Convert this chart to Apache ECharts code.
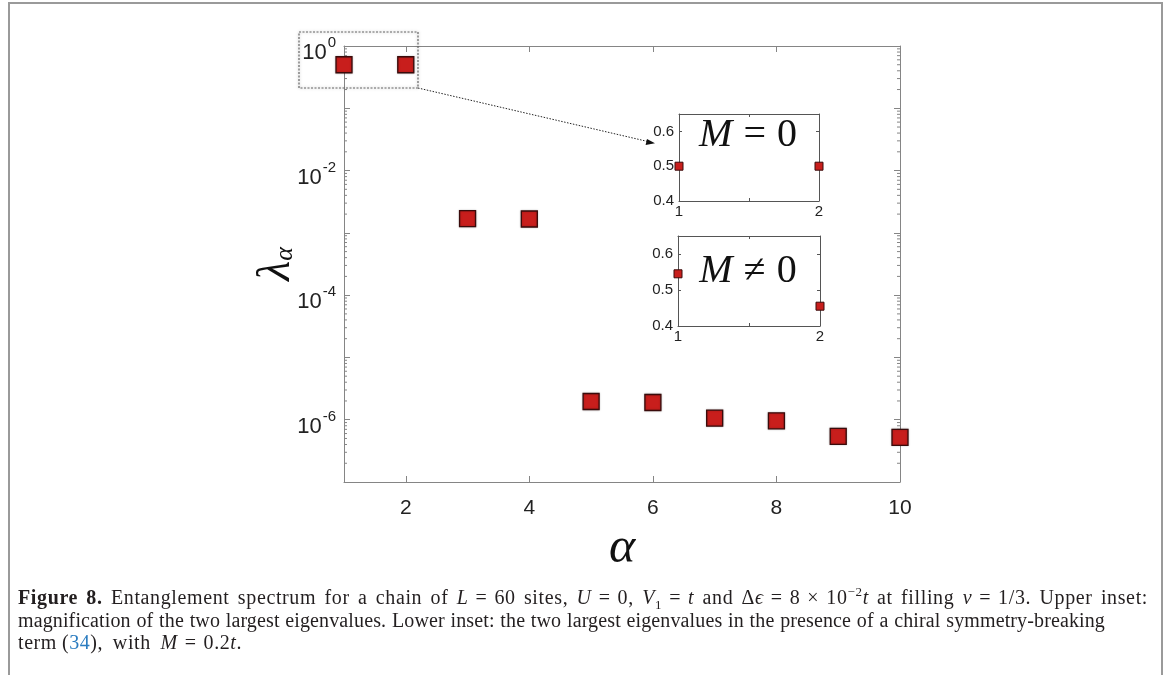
<!DOCTYPE html>
<html>
<head>
<meta charset="utf-8">
<script src="https://cdn.jsdelivr.net/npm/echarts@6/dist/echarts.min.js"></script>
<style>
  html, body { margin: 0; padding: 0; background: #fff; }
  #wrap { position: relative; width: 1171px; height: 675px; overflow: hidden; }
  #chart { position: absolute; left: 0; top: 0; width: 1171px; height: 675px; }
  #frame { position: absolute; left: 8px; top: 2px; width: 1155px; height: 700px; border: 2px solid #9a9a9a; box-sizing: border-box; pointer-events: none; }
  #caption { position: absolute; left: 18px; top: 586px; font-family: "Liberation Serif", serif; font-size: 20px; line-height: 22.5px; color: #231f20; white-space: nowrap; }
  #caption > div { display: inline-block; }
  #caption i { font-style: italic; }
  #caption .eq { margin: 0 7px; }
  #caption .ref { color: #2b7cc0; }
  #caption .gap { margin-left: 5px; }
  #caption sub, #caption sup { font-size: 13px; line-height: 0; }
</style>
</head>
<body>
<div id="wrap">
  <div id="chart"></div>
  <div id="frame"></div>
  <div id="caption">
    <div id="l1" data-w="1130"><b>Figure 8.</b> Entanglement spectrum for a chain of <i>L</i><span class="eq">=</span>60 sites, <i>U</i><span class="eq">=</span>0, <i>V</i><sub>1</sub><span class="eq">=</span><i>t</i> and Δ<i>ϵ</i><span class="eq">=</span>8<span class="eq">×</span>10<sup>−2</sup><i>t</i> at filling <i>ν</i><span class="eq">=</span>1/3. Upper inset:</div><br>
    <div id="l2" data-w="1087">magnification of the two largest eigenvalues. Lower inset: the two largest eigenvalues in the presence of a chiral symmetry-breaking</div><br>
    <div id="l3" data-w="224">term<span class="gap">(</span><span class="ref">34</span>), with <i>M</i><span class="eq">=</span>0.2<i>t</i>.</div>
  </div>
</div>
<script>
// ---- data ----
const alpha = [1, 2, 3, 4, 5, 6, 7, 8, 9, 10];
const lambda = [0.5, 0.5, 1.69e-3, 1.67e-3, 1.96e-6, 1.89e-6, 1.06e-6, 9.6e-7, 5.4e-7, 5.2e-7];
const insetAlpha = [1, 2];
const insetM0 = [0.5, 0.5];
const insetMnot0 = [0.545, 0.455];
const xTickValues = [2, 4, 6, 8, 10];
const yLabelExponents = [0, -2, -4, -6];
const insetXTickLabels = [1, 2];
const insetYTickLabels = ['0.4', '0.5', '0.6'];

// fit caption lines to the reference widths: part letter spacing, rest word spacing
document.querySelectorAll('#caption > div').forEach(el => {
  const target = +el.dataset.w;
  const w = el.getBoundingClientRect().width;
  const txt = el.textContent.trim();
  const spaces = (txt.match(/ /g) || []).length || 1;
  const d = target - w;
  el.style.letterSpacing = (d * 0.6 / txt.length).toFixed(3) + 'px';
  const w2 = el.getBoundingClientRect().width;
  el.style.wordSpacing = ((target - w2) / spaces).toFixed(3) + 'px';
});

// minor tick positions on the log axis (2..9 x 10^k)
const minorVals = [];
for (let e = -7; e < 0; e++) for (let m = 2; m <= 9; m++) minorVals.push([1, m * Math.pow(10, e)]);

const RED = '#c81e1c', EDGE = '#3a0b0b';
const AX = '#858585';
const sans = 'Liberation Sans';

const chart = echarts.init(document.getElementById('chart'));

function insetX(gi) {
  return [
    { gridIndex: gi, type: 'value', min: 1, max: 2, interval: 0.5, position: 'bottom',
      axisLine: { lineStyle: { color: '#555', width: 1 } },
      axisTick: { inside: true, length: 3, lineStyle: { color: '#555' } },
      axisLabel: { fontFamily: sans, fontSize: 15, color: '#222', margin: 3,
        formatter: v => insetXTickLabels.includes(v) ? String(v) : '' },
      splitLine: { show: false } },
    { gridIndex: gi, type: 'value', min: 1, max: 2, interval: 0.5, position: 'top',
      axisLine: { lineStyle: { color: '#555', width: 1 } },
      axisTick: { inside: true, length: 3, lineStyle: { color: '#555' } },
      axisLabel: { show: false }, splitLine: { show: false } }
  ];
}
function insetY(gi) {
  return [
    { gridIndex: gi, type: 'value', min: 0.4, max: 0.65, interval: 0.1, position: 'left',
      axisLine: { show: true, lineStyle: { color: '#555', width: 1 } },
      axisTick: { show: true, inside: true, length: 3, lineStyle: { color: '#555' } },
      axisLabel: { fontFamily: sans, fontSize: 15, color: '#222', margin: 5, showMaxLabel: false,
        formatter: v => { const s = v.toFixed(1); return insetYTickLabels.includes(s) && v < 0.62 ? s : ''; } },
      splitLine: { show: false } },
    { gridIndex: gi, type: 'value', min: 0.4, max: 0.65, interval: 0.1, position: 'right',
      axisLine: { show: true, lineStyle: { color: '#555', width: 1 } },
      axisTick: { show: true, inside: true, length: 3, lineStyle: { color: '#555' } },
      axisLabel: { show: false }, splitLine: { show: false } }
  ];
}

const mathRich = {
  i: { fontFamily: 'Liberation Serif', fontStyle: 'italic', fontSize: 40, fill: '#111' },
  e: { fontFamily: 'Liberation Serif', fontSize: 40, fill: '#111', padding: [0, 11, 0, 11] },
  n: { fontFamily: 'Liberation Serif', fontSize: 40, fill: '#111' }
};

const option = {
  animation: false,
  grid: [
    { left: 344, top: 46, width: 556, height: 436, containLabel: false, outerBoundsMode: 'none' },
    { left: 679, top: 114, width: 140, height: 87, containLabel: false, outerBoundsMode: 'none' },
    { left: 678, top: 236, width: 142, height: 90, containLabel: false, outerBoundsMode: 'none' }
  ],
  xAxis: [
    { gridIndex: 0, type: 'value', min: 1, max: 10, position: 'bottom',
      axisLine: { lineStyle: { color: AX, width: 1 } },
      axisTick: { inside: true, length: 6, lineStyle: { color: AX }, customValues: xTickValues },
      axisLabel: { fontFamily: sans, fontSize: 21, color: '#222', margin: 16, customValues: xTickValues },
      splitLine: { show: false },
      name: 'α', nameLocation: 'middle', nameGap: 36,
      nameTextStyle: { fontFamily: 'Liberation Serif', fontStyle: 'italic', fontSize: 50, color: '#111' } },
    { gridIndex: 0, type: 'value', min: 1, max: 10, position: 'top',
      axisLine: { lineStyle: { color: AX, width: 1 } },
      axisTick: { inside: true, length: 6, lineStyle: { color: AX }, customValues: xTickValues },
      axisLabel: { show: false, customValues: xTickValues }, splitLine: { show: false } },
    ...insetX(1),
    ...insetX(2)
  ],
  yAxis: [
    { gridIndex: 0, type: 'log', logBase: 10, min: 1e-7, max: 1, splitNumber: 7, position: 'left',
      axisLine: { show: true, lineStyle: { color: AX, width: 1 } },
      axisTick: { show: true, inside: true, length: 6, lineStyle: { color: AX } },
      axisLabel: { margin: 8, color: '#222', fontFamily: sans,
        formatter: v => { const e = Math.round(Math.log10(v)); return yLabelExponents.includes(e) ? '{b|10}{s|' + e + '}' : ''; },
        rich: { b: { fontFamily: sans, fontSize: 22, color: '#222', padding: [14, 0, 0, 0] },
                s: { fontFamily: sans, fontSize: 15, color: '#222', padding: [0, 0, 6, 1] } } },
      splitLine: { show: false } },
    { gridIndex: 0, type: 'log', logBase: 10, min: 1e-7, max: 1, splitNumber: 7, position: 'right',
      axisLine: { show: true, lineStyle: { color: AX, width: 1 } },
      axisTick: { show: true, inside: true, length: 6, lineStyle: { color: AX } },
      axisLabel: { show: false }, splitLine: { show: false } },
    ...insetY(1),
    ...insetY(2)
  ],
  series: [
    { type: 'scatter', xAxisIndex: 0, yAxisIndex: 0, symbol: 'rect', symbolSize: 16, clip: false,
      itemStyle: { color: RED, opacity: 1, borderColor: EDGE, borderWidth: 1.3, shadowBlur: 2, shadowColor: 'rgba(0,0,0,0.25)' },
      data: alpha.map((a, i) => [a, lambda[i]]), z: 5 },
    { type: 'custom', xAxisIndex: 0, yAxisIndex: 0, silent: true, clip: false,
      data: minorVals,
      renderItem: (params, api) => {
        const v = api.value(1);
        const pL = api.coord([1, v]);
        const pR = api.coord([10, v]);
        return { type: 'group', children: [
          { type: 'line', shape: { x1: pL[0], y1: pL[1], x2: pL[0] + 3, y2: pL[1] }, style: { stroke: AX, lineWidth: 1 } },
          { type: 'line', shape: { x1: pR[0] - 3, y1: pR[1], x2: pR[0], y2: pR[1] }, style: { stroke: AX, lineWidth: 1 } }
        ] };
      } },
    { type: 'scatter', xAxisIndex: 2, yAxisIndex: 2, symbol: 'rect', symbolSize: 8, clip: false,
      itemStyle: { color: RED, opacity: 1, borderColor: EDGE, borderWidth: 1 },
      data: insetAlpha.map((a, i) => [a, insetM0[i]]), z: 5 },
    { type: 'scatter', xAxisIndex: 4, yAxisIndex: 4, symbol: 'rect', symbolSize: 8, clip: false,
      itemStyle: { color: RED, opacity: 1, borderColor: EDGE, borderWidth: 1 },
      data: insetAlpha.map((a, i) => [a, insetMnot0[i]]), z: 5 }
  ],
  graphic: [
    // y axis name
    { type: 'text', x: 277, y: 264, rotation: Math.PI / 2,
      style: { text: '{l|λ}{a|α}', align: 'center', verticalAlign: 'middle',
        rich: { l: { fontFamily: 'Liberation Serif', fontStyle: 'italic', fontSize: 46, fill: '#111' },
                a: { fontFamily: 'Liberation Serif', fontStyle: 'italic', fontSize: 26, fill: '#111', padding: [16, 0, 0, 0] } } } },
    // inset texts
    { type: 'text', x: 748, y: 135,
      style: { text: '{i|M}{e|=}{n|0}', align: 'center', verticalAlign: 'middle', rich: mathRich } },
    { type: 'text', x: 748, y: 271,
      style: { text: '{i|M}{e|≠}{n|0}', align: 'center', verticalAlign: 'middle', rich: mathRich } },
    // magnification box
    { type: 'rect', shape: { x: 299, y: 32, width: 119, height: 56 }, z: 10,
      style: { fill: 'rgba(0,0,0,0)', stroke: '#666', lineWidth: 1.2, lineDash: [2, 1.5],
        shadowBlur: 3, shadowColor: 'rgba(0,0,0,0.35)' } },
    // arrow
    { type: 'line', shape: { x1: 418, y1: 88, x2: 650, y2: 142 }, z: 10,
      style: { stroke: '#222', lineWidth: 1, lineDash: [1.5, 1.5] } },
    { type: 'polygon', shape: { points: [[655, 143.2], [647, 139], [645.6, 145]] }, z: 10,
      style: { fill: '#111' } }
  ]
};
chart.setOption(option);
</script>
</body>
</html>
